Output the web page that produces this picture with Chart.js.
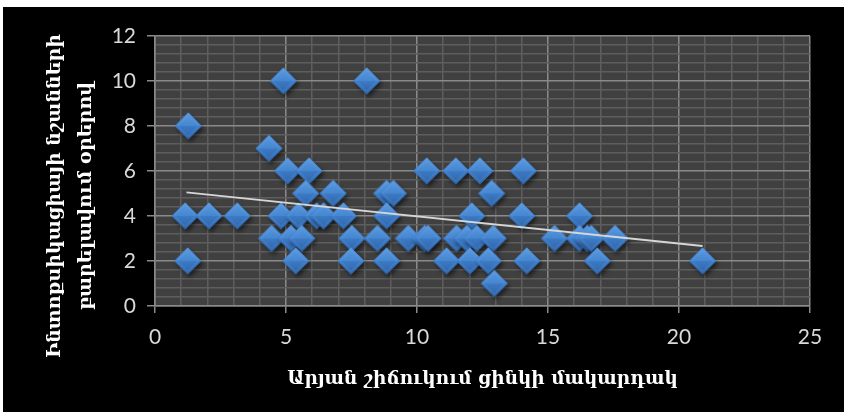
<!DOCTYPE html>
<html>
<head>
<meta charset="utf-8">
<script src="https://cdn.jsdelivr.net/npm/chart.js@4/dist/chart.umd.min.js"></script>
<style>
  html, body { margin: 0; padding: 0; background: #ffffff; }
  #wrap { position: absolute; left: 0; top: 0; width: 847px; height: 419px; }
</style>
</head>
<body>
<div id="wrap"><canvas id="c" width="847" height="419"></canvas></div>
<script>
// Serum zinc level (x) vs. days until intoxication signs improve (y)
const zincLevel = [
  1.27, 4.9, 8.08, 4.35,
  1.15, 2.06, 3.14, 1.25,
  5.06, 5.88, 10.37, 11.48, 12.4, 14.06,
  5.75, 6.8, 8.84, 9.1, 12.85,
  4.81, 5.47, 6.17, 6.43, 7.19, 8.84, 12.09, 14.0, 16.2,
  4.45, 5.19, 5.6, 7.51, 8.49, 9.67, 10.3, 10.42, 11.51, 11.9, 12.28, 12.91, 15.25, 16.2, 16.5, 16.65, 17.56,
  5.37, 7.48, 8.84, 11.13, 12.02, 12.72, 14.19, 16.88, 20.9,
  12.95
];
const improvementDays = [
  8, 10, 10, 7,
  4, 4, 4, 2,
  6, 6, 6, 6, 6, 6,
  5, 5, 5, 5, 5,
  4, 4, 4, 4, 4, 4, 4, 4, 4,
  3, 3, 3, 3, 3, 3, 3, 3, 3, 3, 3, 3, 3, 3, 3, 3, 3,
  2, 2, 2, 2, 2, 2, 2, 2, 2,
  1
];

// Linear trend line end points
const trendX = [1.2, 20.9];
const trendY = [5.05, 2.67];

// Labelled tick values
const xTickLabels = [0, 5, 10, 15, 20, 25];
const yTickLabels = [0, 2, 4, 6, 8, 10, 12];

const xTitle = 'Արյան շիճուկում ցինկի մակարդակ';
const yTitle = ['Ինտոքսիկացիայի նշանների', 'բարելավում օրերով'];

const points = zincLevel.map((x, i) => ({ x: x, y: improvementDays[i] }));
const trend = trendX.map((x, i) => ({ x: x, y: trendY[i] }));

// Bevelled diamond marker
function makeDiamond() {
  const s = 40, c = 20, r = 13.5;
  const cv = document.createElement('canvas');
  cv.width = s; cv.height = s;
  const g = cv.getContext('2d');
  g.save();
  g.shadowColor = 'rgba(0,0,0,0.55)';
  g.shadowBlur = 4;
  g.shadowOffsetX = 2;
  g.shadowOffsetY = 3;
  g.beginPath();
  g.moveTo(c, c - r); g.lineTo(c + r, c); g.lineTo(c, c + r); g.lineTo(c - r, c); g.closePath();
  g.fillStyle = '#3a77c0';
  g.fill();
  g.restore();
  // upper facets
  let gr = g.createLinearGradient(0, c - r, 0, c);
  gr.addColorStop(0, '#5b9be0');
  gr.addColorStop(1, '#4586d1');
  g.beginPath();
  g.moveTo(c, c - r); g.lineTo(c + r, c); g.lineTo(c - r, c); g.closePath();
  g.fillStyle = gr; g.fill();
  // lower facets
  gr = g.createLinearGradient(0, c, 0, c + r);
  gr.addColorStop(0, '#3d7bc6');
  gr.addColorStop(1, '#2c62a6');
  g.beginPath();
  g.moveTo(c - r, c); g.lineTo(c + r, c); g.lineTo(c, c + r); g.closePath();
  g.fillStyle = gr; g.fill();
  // inner bevel
  const ri = r - 3;
  g.beginPath();
  g.moveTo(c, c - ri); g.lineTo(c + ri, c); g.lineTo(c, c + ri); g.lineTo(c - ri, c); g.closePath();
  g.strokeStyle = 'rgba(120,170,230,0.35)';
  g.lineWidth = 1;
  g.stroke();
  return cv;
}
const diamond = makeDiamond();

const isLabelled = (v, list) => list.some(t => Math.abs(t - v) < 1e-6);

const majorGrid = '#8a8a8a';
const minorGrid = '#5e5e5e';

const background = {
  id: 'background',
  beforeDraw(chart) {
    const ctx = chart.ctx;
    const a = chart.chartArea;
    ctx.save();
    ctx.fillStyle = '#ffffff';
    ctx.fillRect(0, 0, chart.width, chart.height);
    ctx.fillStyle = '#000000';
    ctx.fillRect(3, 7, 841, 405);
    ctx.fillStyle = '#404040';
    ctx.fillRect(a.left, a.top, a.right - a.left, a.bottom - a.top);
    ctx.restore();
  }
};

// Two-line vertical title for the value axis, centred on the chart frame
const valueAxisTitle = {
  id: 'valueAxisTitle',
  afterDraw(chart) {
    const ctx = chart.ctx;
    ctx.save();
    ctx.translate(0, 196);
    ctx.rotate(-Math.PI / 2);
    ctx.fillStyle = '#ffffff';
    ctx.font = 'bold 19px "DejaVu Serif"';
    ctx.textAlign = 'center';
    ctx.textBaseline = 'middle';
    ctx.fillText(yTitle[0], 0, 55);
    ctx.fillText(yTitle[1], 0, 86);
    ctx.restore();
  }
};

new Chart(document.getElementById('c'), {
  type: 'scatter',
  data: {
    datasets: [
      {
        label: 'trend',
        data: trend,
        showLine: true,
        borderColor: '#d6d6d6',
        borderWidth: 2,
        pointRadius: 0,
        fill: false
      },
      {
        label: 'patients',
        data: points,
        pointStyle: diamond,
        pointRadius: 14,
        pointHoverRadius: 14
      }
    ]
  },
  options: {
    responsive: false,
    animation: false,
    events: [],
    layout: { padding: { top: 36, right: 37, left: 0, bottom: 0 } },
    plugins: { legend: { display: false }, tooltip: { enabled: false } },
    scales: {
      x: {
        type: 'linear',
        min: 0, max: 25,
        afterFit(scale) { scale.height = 113; },
        ticks: {
          stepSize: 1,
          autoSkip: false,
          maxRotation: 0,
          padding: 12,
          color: '#d9d9d9',
          font: { family: 'Lato', size: 21 },
          callback: v => isLabelled(v, xTickLabels) ? String(Math.round(v)) : ''
        },
        grid: {
          color: c => isLabelled(c.tick.value, xTickLabels) ? majorGrid : minorGrid,
          tickColor: c => isLabelled(c.tick.value, xTickLabels) ? majorGrid : 'rgba(0,0,0,0)',
          tickLength: 7,
          lineWidth: 1.5
        },
        border: { color: majorGrid, width: 1.5 },
        title: {
          display: true,
          text: xTitle,
          color: '#ffffff',
          font: { family: 'DejaVu Serif', size: 18.5, weight: 'bold', lineHeight: 1.3 },
          padding: { top: 0, bottom: 28 }
        }
      },
      y: {
        type: 'linear',
        min: 0, max: 12,
        afterFit(scale) { scale.width = 155; },
        ticks: {
          stepSize: 0.4,
          autoSkip: false,
          padding: 11,
          color: '#d9d9d9',
          font: { family: 'Lato', size: 21 },
          callback: v => isLabelled(v, yTickLabels) ? String(Math.round(v)) : ''
        },
        grid: {
          color: c => isLabelled(c.tick.value, yTickLabels) ? majorGrid : minorGrid,
          tickColor: c => isLabelled(c.tick.value, yTickLabels) ? majorGrid : 'rgba(0,0,0,0)',
          tickLength: 8,
          lineWidth: 1.5
        },
        border: { color: majorGrid, width: 1.5 },
        title: { display: false }
      }
    }
  },
  plugins: [background, valueAxisTitle]
});
</script>
</body>
</html>
